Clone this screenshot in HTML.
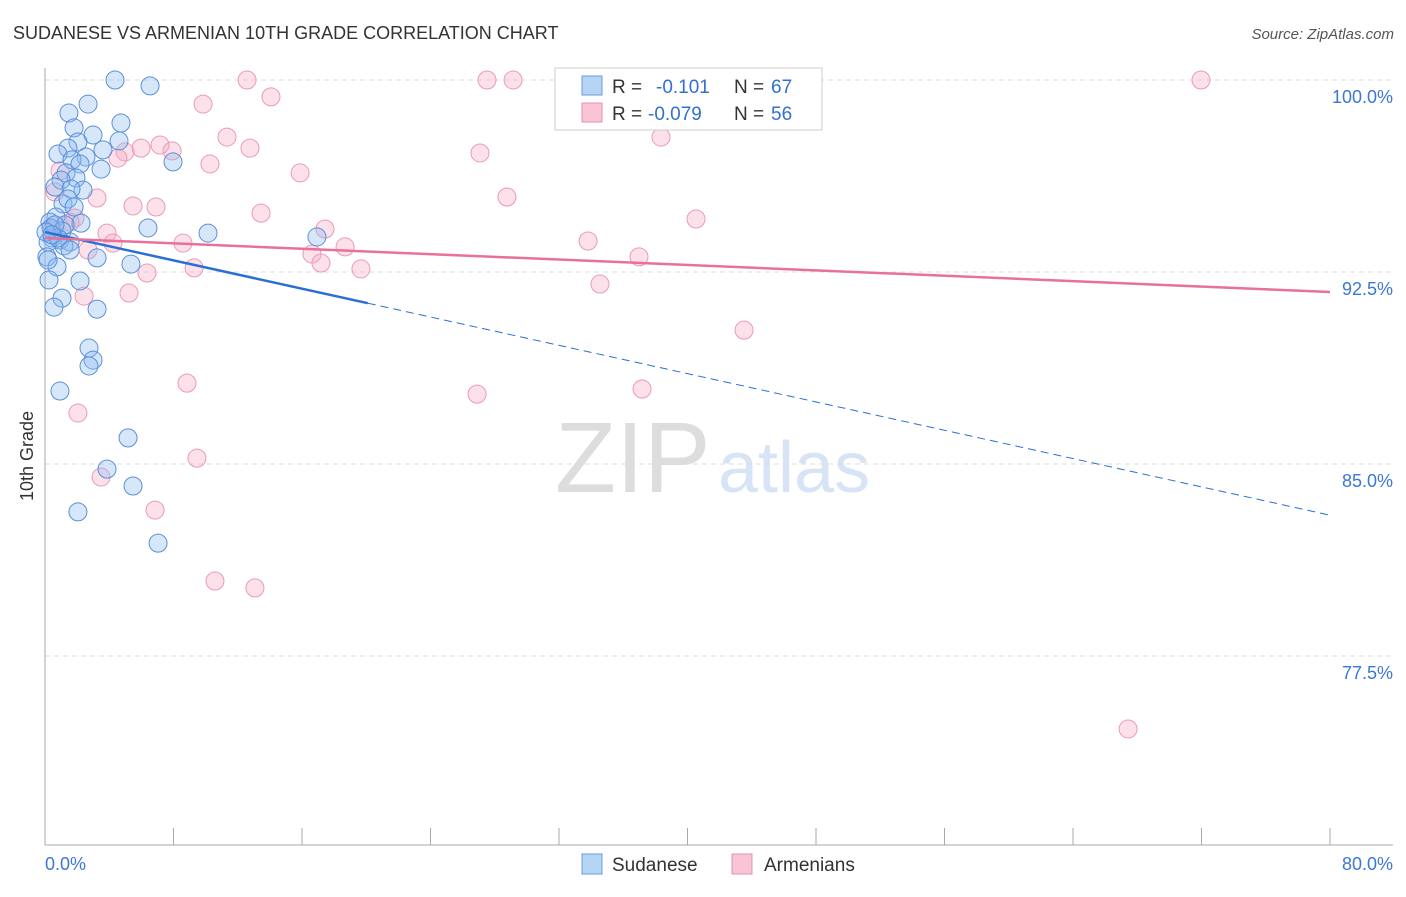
<!DOCTYPE html>
<html><head><meta charset="utf-8"><style>
body{margin:0;background:#fff;font-family:"Liberation Sans",sans-serif}
svg text{font-family:"Liberation Sans",sans-serif}
</style></head><body>
<svg id="c" width="1406" height="892">
<text x="13" y="39" font-size="18" fill="#333">SUDANESE VS ARMENIAN 10TH GRADE CORRELATION CHART</text>
<text x="1394" y="39" font-size="15" fill="#555" font-style="italic" text-anchor="end">Source: ZipAtlas.com</text>
<text x="33" y="456" font-size="18" fill="#333" text-anchor="middle" transform="rotate(-90 33 456)">10th Grade</text>
<text x="555" y="492" font-size="100" fill="#ddd" font-family="Liberation Serif">ZIP</text>
<text x="718" y="492" font-size="72" fill="#d6e4f5">atlas</text>
<g id="grid"></g><g id="pts"></g><g id="trend"></g>
<g>
<rect x="555" y="68" width="267" height="62" fill="#fff" stroke="#ccc"/>
<rect x="582" y="76" width="20" height="19" fill="#b8d4f5" stroke="#6a9ae0"/>
<rect x="582" y="103" width="20" height="19" fill="#f9c5d5" stroke="#e890ad"/>
<text x="612" y="93" font-size="19" fill="#333">R =</text><text x="656" y="93" font-size="19" fill="#3070d0">-0.101</text>
<text x="734" y="93" font-size="19" fill="#333">N =</text><text x="771" y="93" font-size="19" fill="#3070d0">67</text>
<text x="612" y="120" font-size="19" fill="#333">R =</text><text x="648" y="120" font-size="19" fill="#3070d0">-0.079</text>
<text x="734" y="120" font-size="19" fill="#333">N =</text><text x="771" y="120" font-size="19" fill="#3070d0">56</text>
</g>
<g>
<rect x="582" y="854" width="20" height="20" fill="#b8d4f5" stroke="#6a9ae0"/>
<text x="612" y="871" font-size="19" fill="#333">Sudanese</text>
<rect x="732" y="854" width="20" height="20" fill="#f9c5d5" stroke="#e890ad"/>
<text x="764" y="871" font-size="19" fill="#333">Armenians</text>
</g>
</svg>
<script>
const yTicks=[100,92.5,85,77.5];
const yTickLabels=["100.0%","92.5%","85.0%","77.5%"];
const xTickLabels=["0.0%","80.0%"];
const sudX=[4.36,6.54,2.68,1.49,4.73,1.81,2.99,4.61,2.05,3.61,1.43,0.81,2.55,1.68,3.49,2.18,1.31,1.93,1.0,2.37,0.62,1.62,1.12,1.43,1.81,0.68,0.31,2.24,1.25,0.37,1.06,6.41,10.15,16.93,0.44,0.93,1.56,0.19,1.18,1.56,0.81,0.12,3.24,5.35,0.75,2.18,0.25,1.06,0.56,3.24,2.74,2.99,2.74,0.93,5.17,3.86,5.48,2.05,7.04,7.97,0.19,0.62,0.06,0.44];
const sudY=[100,99.77,99.06,98.71,98.32,98.13,97.85,97.62,97.58,97.27,97.34,97.11,96.99,96.88,96.52,96.72,96.37,96.17,96.09,95.70,95.82,95.74,95.16,95.35,95.04,94.65,94.45,94.41,94.34,94.22,94.10,94.22,94.02,93.87,93.83,93.75,93.67,93.67,93.52,93.36,93.83,93.09,93.05,92.81,92.70,92.15,92.19,91.48,91.13,91.05,89.53,89.06,88.83,87.85,86.02,84.80,84.14,83.13,81.91,96.80,92.97,94.34,94.06,93.95];
const armX=[12.58,27.52,29.14,32.81,71.97,14.07,9.84,11.33,12.76,7.16,7.91,5.98,4.98,4.54,10.27,15.88,0.93,27.08,38.35,28.76,3.24,5.48,6.91,13.45,17.43,40.53,3.86,8.59,18.68,33.81,4.23,2.68,16.62,6.35,9.28,17.18,19.67,36.98,34.55,2.43,5.23,43.52,8.84,26.9,37.17,2.05,9.46,3.49,6.85,10.58,13.07,67.43,0.62,1.56,0.44,1.87];
const armY=[100,100,100,100,100,99.34,99.06,97.77,97.34,97.46,97.23,97.34,97.19,96.95,96.72,96.37,96.45,97.15,97.77,95.43,95.39,95.08,95.04,94.80,94.18,94.57,94.02,93.63,93.48,93.71,93.63,93.36,93.20,92.46,92.66,92.85,92.62,93.09,92.03,91.56,91.68,90.23,88.16,87.73,87.93,86.99,85.23,84.49,83.20,80.43,80.16,74.65,95.63,94.45,94.14,94.61];
const sudTrend=[94.06,83.0];
const sudSolidEnd=20.1;
const armTrend=[93.83,91.72];
const X0=45,X1=1330,Y100=80,PXPER=25.6;
function sx(v){return X0+(v/80)*(X1-X0);}
function sy(v){return Y100+(100-v)*PXPER;}
const NS="http://www.w3.org/2000/svg";
function mk(t,a,p){const e=document.createElementNS(NS,t);for(const k in a)e.setAttribute(k,a[k]);p.appendChild(e);return e;}
const grid=document.getElementById('grid');
yTicks.forEach((t,i)=>{
 const l=mk('line',{x1:45,x2:1393,y1:sy(t),y2:sy(t),stroke:'#ddd','stroke-dasharray':'5,4'},grid);
 
 
 const tx=mk('text',{x:1393,y:sy(t)+23,'font-size':18,fill:'#3b78d4','text-anchor':'end'},grid);
 tx.textContent=yTickLabels[i];
 
 
});
const ax=mk('line',{x1:45,x2:45,y1:68,y2:845,stroke:'#aaa'},grid);


const bx=mk('line',{x1:45,x2:1393,y1:845,y2:845,stroke:'#aaa'},grid);


for(let i=0;i<=10;i++){
 const tk=mk('line',{x1:sx(i*8),x2:sx(i*8),y1:828,y2:845,stroke:'#aaa'},grid);
 
 
}
[[0,'start',45],[80,'end',1393]].forEach((d,i)=>{
 const t=mk('text',{x:d[2],y:870,'font-size':18,fill:'#3b78d4','text-anchor':d[1]},grid);
 t.textContent=xTickLabels[i];
 
 
});
const pts=document.getElementById('pts');
armX.forEach((x,i)=>{
 const c=mk('circle',{cx:sx(x),cy:sy(armY[i]),r:9,fill:'rgba(245,170,195,0.35)',stroke:'#ea9ab5','stroke-width':1},pts);
 
 
});
sudX.forEach((x,i)=>{
 const c=mk('circle',{cx:sx(x),cy:sy(sudY[i]),r:9,fill:'rgba(140,185,240,0.35)',stroke:'#5b8fd9','stroke-width':1},pts);
 
 
});
const tr=document.getElementById('trend');
const ys=v=>sudTrend[0]+(sudTrend[1]-sudTrend[0])*v/80;
const l1=mk('line',{x1:sx(0),y1:sy(sudTrend[0]),x2:sx(sudSolidEnd),y2:sy(ys(sudSolidEnd)),stroke:'#2a6fd6','stroke-width':2.5},tr);


const l2=mk('line',{x1:sx(sudSolidEnd),y1:sy(ys(sudSolidEnd)),x2:sx(80),y2:sy(sudTrend[1]),stroke:'#2a6fd6','stroke-width':1,'stroke-dasharray':'8,5'},tr);


const l3=mk('line',{x1:sx(0),y1:sy(armTrend[0]),x2:sx(80),y2:sy(armTrend[1]),stroke:'#e8709a','stroke-width':2.5},tr);


</script>
</body></html>
